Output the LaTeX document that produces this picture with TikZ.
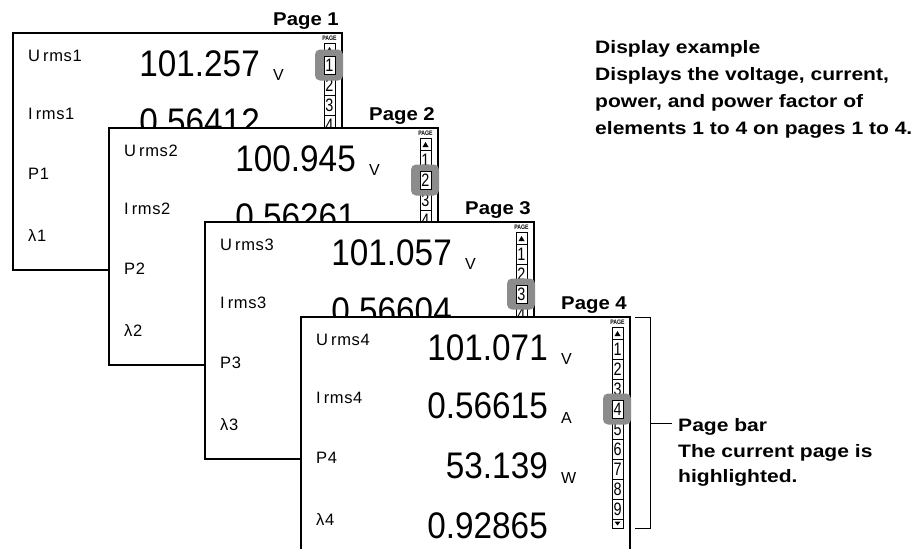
\documentclass[tikz,border=0pt]{standalone}
\usepackage{fontspec}
\setmainfont{Liberation Sans}
\newfontfamily\wideb[FakeStretch=1.17]{Liberation Sans Bold}
\newfontfamily\titleb[FakeStretch=1.1]{Liberation Sans Bold}
\newfontfamily\digf[FakeStretch=0.9]{Liberation Sans}
\newfontfamily\lblf[LetterSpace=4]{Liberation Sans}
\newfontfamily\barf[FakeStretch=0.8]{Liberation Sans}
\newfontfamily\tinyb[FakeStretch=0.8]{Liberation Sans Bold}
\definecolor{hlgray}{HTML}{8C8C8C}
\tikzset{
 panel/.style={draw=black, line width=1.8pt, fill=white},
 lbl/.style={anchor=base west, inner sep=0pt, font=\lblf\fontsize{16.5}{16.5}\selectfont},
 val/.style={anchor=base east, inner sep=0pt, font=\digf\fontsize{37}{37}\selectfont},
 unit/.style={anchor=base west, inner sep=0pt, font=\fontsize{16}{16}\selectfont},
 pagetitle/.style={anchor=base east, inner sep=0pt, font=\titleb\fontsize{18.5}{18.5}\selectfont},
 note/.style={anchor=base west, inner sep=0pt, font=\wideb\fontsize{18}{18}\selectfont},
 cell/.style={draw=black, line width=0.5pt, fill=white},
 bardigit/.style={inner sep=0pt, font=\barf\fontsize{18}{18}\selectfont},
 hl/.style={fill=hlgray, rounded corners=5pt},
 bracket/.style={draw=black, line width=0.8pt},
}
\newcommand\lblU[2]{#1\kern3pt#2}
% #1 id, #2 highlighted page, #3 last visible digit
\newcommand\pagebar[3]{%
 \node[inner sep=0pt, font=\tinyb\fontsize{6.5}{6.5}\selectfont] (pg#1) at (316.5,5) {PAGE};
 \draw[cell] (311,10) rectangle (322,22);
 \fill (313.5,19) -- (319.5,19) -- (316.5,14) -- cycle;
 \foreach \k in {1,...,#3} {
   \draw[cell] (311,{22+20*(\k-1)}) rectangle (322,{42+20*(\k-1)});
   \ifnum\k=#2\relax\else
   \node[bardigit] (b#1d\k) at (316.5,{32+20*(\k-1)}) {\k};
   \fi
 }
 \ifnum#3=9\relax
 \draw[cell] (311,202) rectangle (322,211);
 \fill (313.5,204.5) -- (319.5,204.5) -- (316.5,208.5) -- cycle;
 \fi
 \fill[hl] (302,{32+20*(#2-1)-15.5}) rectangle (330,{32+20*(#2-1)+15.5});
 \draw[cell] (311,{32+20*(#2-1)-9}) rectangle (322,{32+20*(#2-1)+9});
 \node[bardigit] (h#1) at (316.5,{32+20*(#2-1)}) {#2};
}
\begin{document}
\begin{tikzpicture}[x=1pt,y=-1pt]
\path[use as bounding box] (0,0) rectangle (922,549);
\clip (0,0) rectangle (922,549);

% Page 1
\begin{scope}[shift={(13,33)}]
 \node[pagetitle] (t1) at (326,-8) {Page 1};
 \draw[panel] (0,0) rectangle (329,237);
 \node[lbl] (a1) at (15,28) {\lblU{U}{rms1}};
 \node[lbl] (b1) at (15,86) {\lblU{I}{rms1}};
 \node[lbl] (c1) at (15,146) {P1};
 \node[lbl] (e1) at (15,208) {λ1};
 \node[val] (va1) at (247,43) {101.257};
 \node[unit] (ua1) at (260,47) {V};
 \node[val] (vb1) at (247,101) {0.56412};
 \pagebar{1}{1}{4}
\end{scope}

% Page 2
\begin{scope}[shift={(109,128)}]
 \node[pagetitle] (t2) at (326,-8) {Page 2};
 \draw[panel] (0,0) rectangle (329,237);
 \node[lbl] (a2) at (15,28) {\lblU{U}{rms2}};
 \node[lbl] (b2) at (15,86) {\lblU{I}{rms2}};
 \node[lbl] (c2) at (15,146) {P2};
 \node[lbl] (e2) at (15,208) {λ2};
 \node[val] (va2) at (247,43) {100.945};
 \node[unit] (ua2) at (260,47) {V};
 \node[val] (vb2) at (247,101) {0.56261};
 \pagebar{2}{2}{4}
\end{scope}

% Page 3
\begin{scope}[shift={(205,222)}]
 \node[pagetitle] (t3) at (326,-8) {Page 3};
 \draw[panel] (0,0) rectangle (329,237);
 \node[lbl] (a3) at (15,28) {\lblU{U}{rms3}};
 \node[lbl] (b3) at (15,86) {\lblU{I}{rms3}};
 \node[lbl] (c3) at (15,146) {P3};
 \node[lbl] (e3) at (15,208) {λ3};
 \node[val] (va3) at (247,43) {101.057};
 \node[unit] (ua3) at (260,47) {V};
 \node[val] (vb3) at (247,101) {0.56604};
 \pagebar{3}{3}{4}
\end{scope}

% Page 4
\begin{scope}[shift={(301,317)}]
 \node[pagetitle] (t4) at (326,-8) {Page 4};
 \draw[panel] (0,0) rectangle (329,237);
 \node[lbl] (a4) at (15,28) {\lblU{U}{rms4}};
 \node[lbl] (b4) at (15,86) {\lblU{I}{rms4}};
 \node[lbl] (c4) at (15,146) {P4};
 \node[lbl] (e4) at (15,208) {λ4};
 \node[val] (va4) at (247,43) {101.071};
 \node[unit] (ua4) at (260,47) {V};
 \node[val] (vb4) at (247,101) {0.56615};
 \node[unit] (ub4) at (260,106) {A};
 \node[val] (vc4) at (247,161) {53.139};
 \node[unit] (uc4) at (260,166) {W};
 \node[val] (ve4) at (247,221) {0.92865};
 \pagebar{4}{4}{9}
\end{scope}

% bracket
\coordinate (bt) at (635,317);
\coordinate (bb) at (635,528);
\coordinate (bm) at (650,423);
\coordinate (be) at (672,423);
\draw[bracket] (bt) -- (bt -| bm) -- (bb -| bm) -- (bb);
\draw[bracket] (bm) -- (be);

\node[note] (p1) at (678,431) {Page bar};
\node[note] (p2) at (678,457) {The current page is};
\node[note] (p3) at (678,482) {highlighted.};

\node[note] (d1) at (595,53) {Display example};
\node[note] (d2) at (595,80) {Displays the voltage, current,};
\node[note] (d3) at (595,107) {power, and power factor of};
\node[note] (d4) at (595,134) {elements 1 to 4 on pages 1 to 4.};
\end{tikzpicture}
\end{document}
